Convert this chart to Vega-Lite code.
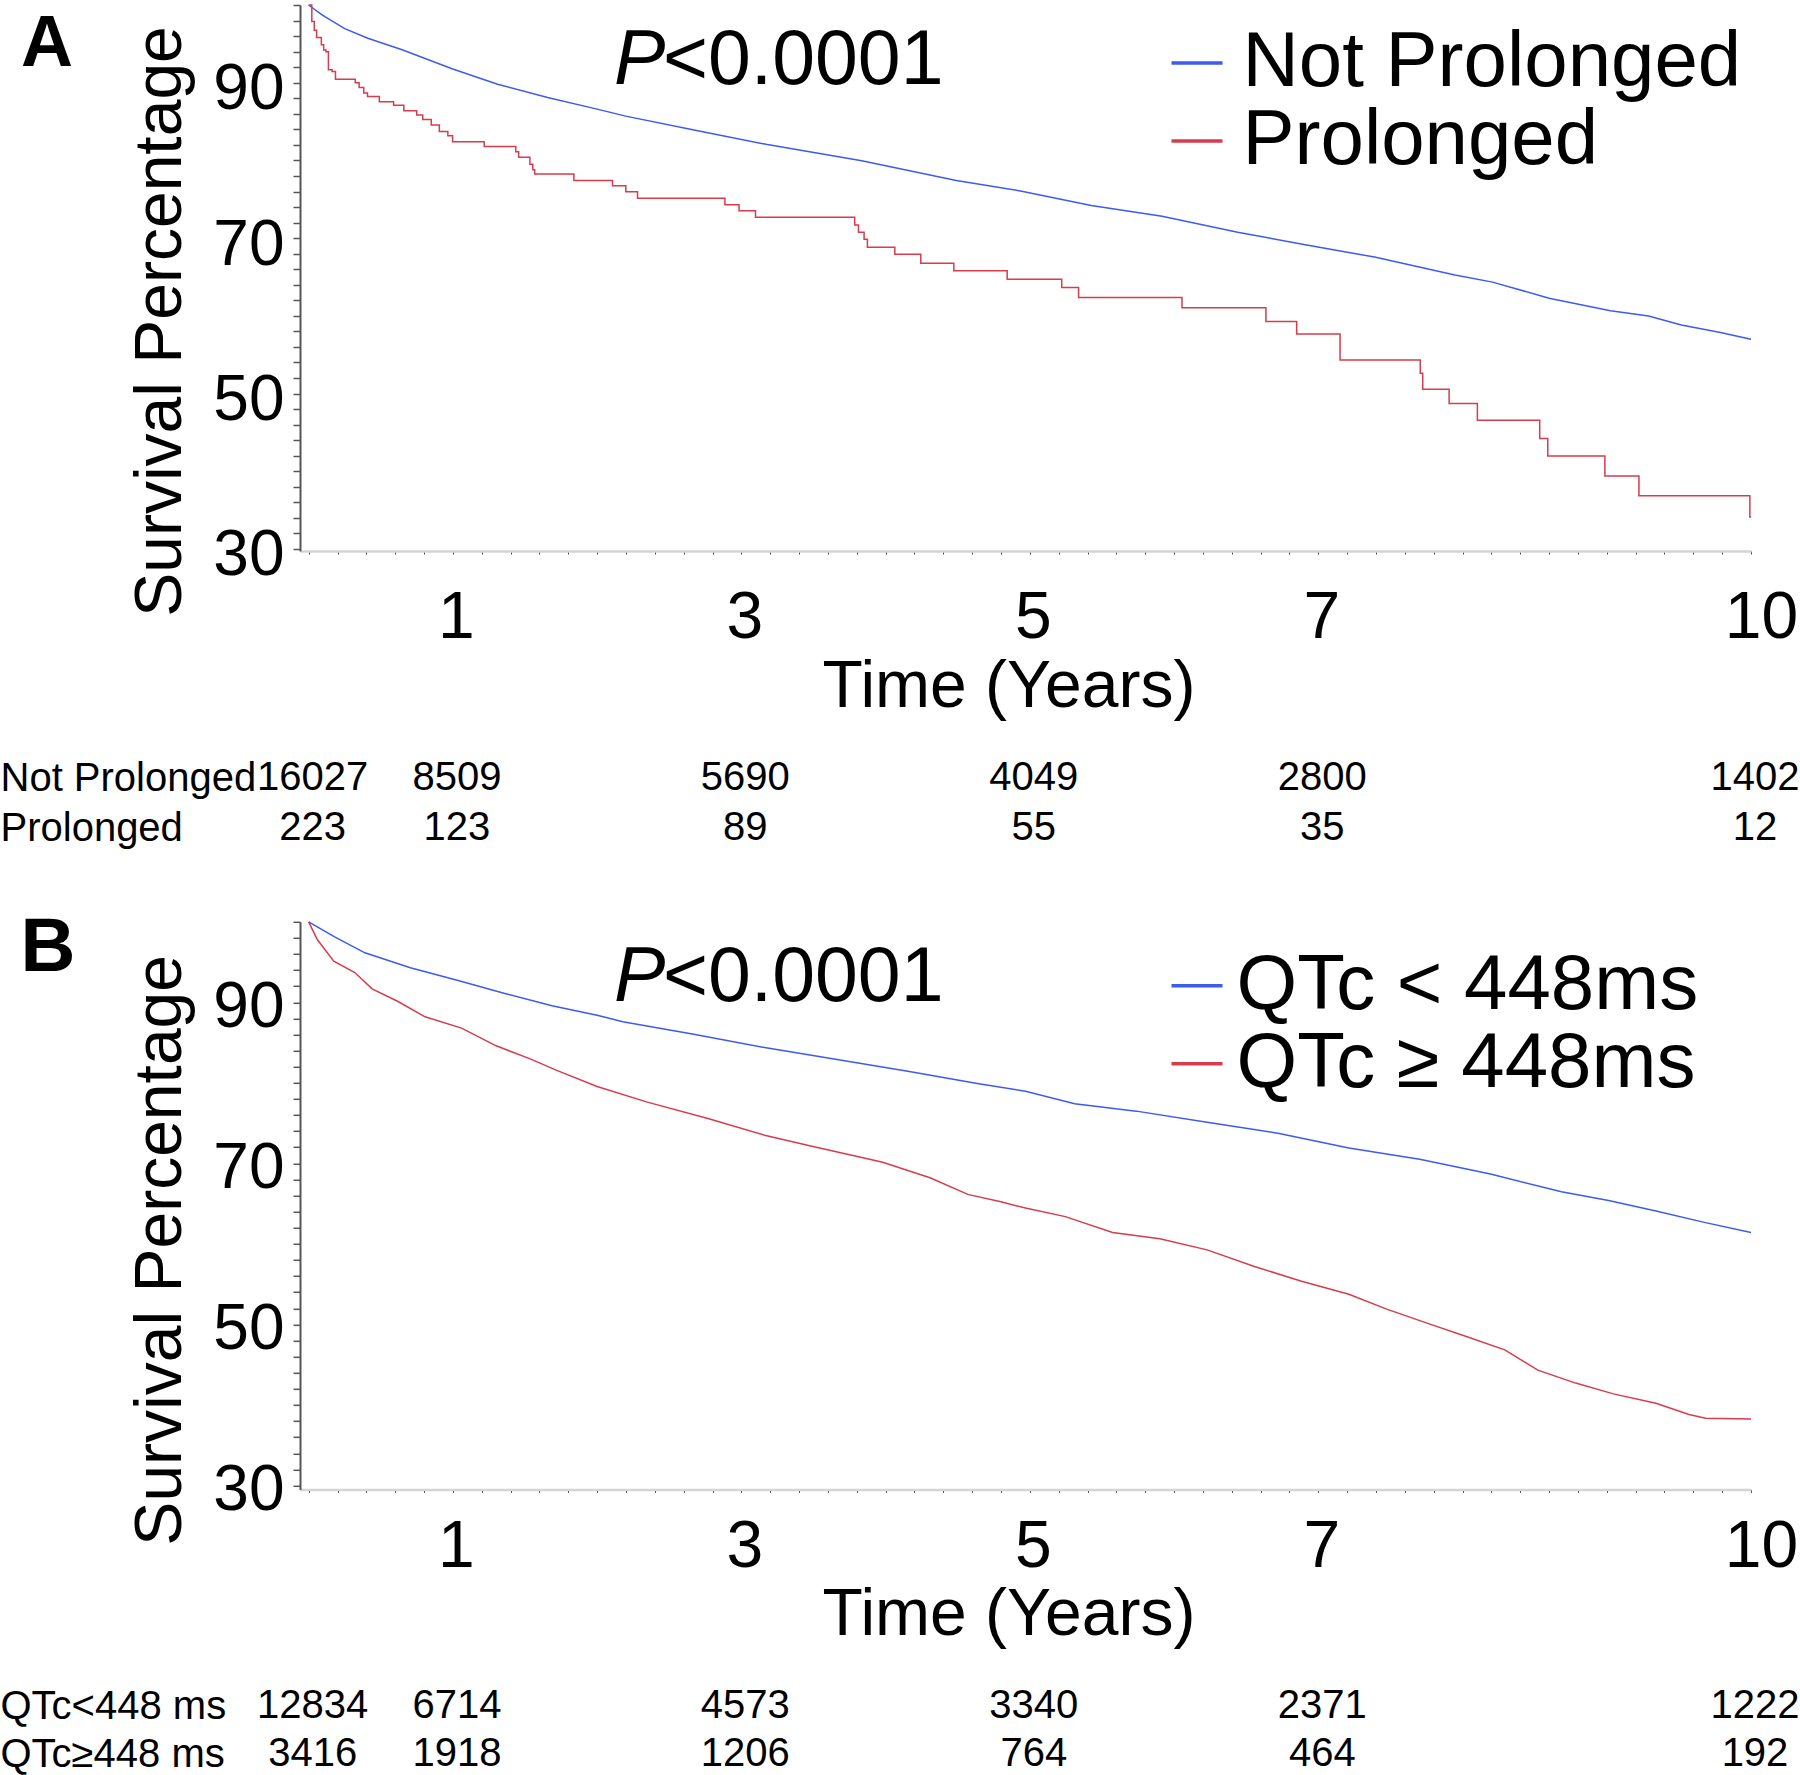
{
  "$schema": "https://vega.github.io/schema/vega-lite/v6.json",
  "background": "white",
  "padding": {"left": 0, "top": -20, "right": 0, "bottom": 0},
  "spacing": 110.4,
  "bounds": "flush",
  "resolve": {"scale": {"x": "independent", "y": "independent", "color": "independent"}, "legend": {"color": "independent"}},
  "config": {
    "font": "Liberation Sans",
    "view": {"stroke": null},
    "axis": {"grid": false, "labelColor": "black", "titleColor": "black", "titleFontWeight": "normal", "labelOverlap": false, "labelFlush": false},
    "legend": {"padding": 0},
    "text": {"color": "black"}
  },
  "datasets": {
    "kmA": [
      {"group": "Not Prolonged", "t": 0, "s": 100},
      {"group": "Not Prolonged", "t": 0.088, "s": 98.8},
      {"group": "Not Prolonged", "t": 0.118, "s": 98.43},
      {"group": "Not Prolonged", "t": 0.25, "s": 96.95},
      {"group": "Not Prolonged", "t": 0.41, "s": 95.72},
      {"group": "Not Prolonged", "t": 0.648, "s": 94.24},
      {"group": "Not Prolonged", "t": 0.994, "s": 91.8},
      {"group": "Not Prolonged", "t": 1.31, "s": 89.8},
      {"group": "Not Prolonged", "t": 1.657, "s": 88.1},
      {"group": "Not Prolonged", "t": 2.0, "s": 86.6},
      {"group": "Not Prolonged", "t": 2.198, "s": 85.7},
      {"group": "Not Prolonged", "t": 2.689, "s": 83.86},
      {"group": "Not Prolonged", "t": 3.18, "s": 82.04},
      {"group": "Not Prolonged", "t": 3.835, "s": 79.96},
      {"group": "Not Prolonged", "t": 4.49, "s": 77.43},
      {"group": "Not Prolonged", "t": 4.935, "s": 76.07},
      {"group": "Not Prolonged", "t": 5.426, "s": 74.21},
      {"group": "Not Prolonged", "t": 5.917, "s": 72.83},
      {"group": "Not Prolonged", "t": 6.441, "s": 70.77},
      {"group": "Not Prolonged", "t": 6.9, "s": 69.17},
      {"group": "Not Prolonged", "t": 7.39, "s": 67.56},
      {"group": "Not Prolonged", "t": 7.947, "s": 65.26},
      {"group": "Not Prolonged", "t": 8.208, "s": 64.34},
      {"group": "Not Prolonged", "t": 8.6, "s": 62.27},
      {"group": "Not Prolonged", "t": 9.026, "s": 60.66},
      {"group": "Not Prolonged", "t": 9.29, "s": 59.97},
      {"group": "Not Prolonged", "t": 9.517, "s": 58.82},
      {"group": "Not Prolonged", "t": 9.78, "s": 57.9},
      {"group": "Not Prolonged", "t": 10.0, "s": 56.98},
      {"group": "Prolonged", "t": 0, "s": 100},
      {"group": "Prolonged", "t": 0.022, "s": 97.89},
      {"group": "Prolonged", "t": 0.039, "s": 96.74},
      {"group": "Prolonged", "t": 0.055, "s": 95.82},
      {"group": "Prolonged", "t": 0.088, "s": 94.9},
      {"group": "Prolonged", "t": 0.104, "s": 94.21},
      {"group": "Prolonged", "t": 0.12, "s": 93.98},
      {"group": "Prolonged", "t": 0.137, "s": 91.68},
      {"group": "Prolonged", "t": 0.163, "s": 91.45},
      {"group": "Prolonged", "t": 0.186, "s": 90.44},
      {"group": "Prolonged", "t": 0.323, "s": 89.98},
      {"group": "Prolonged", "t": 0.35, "s": 89.38},
      {"group": "Prolonged", "t": 0.382, "s": 88.69},
      {"group": "Prolonged", "t": 0.408, "s": 88.23},
      {"group": "Prolonged", "t": 0.49, "s": 87.55},
      {"group": "Prolonged", "t": 0.589, "s": 87.09},
      {"group": "Prolonged", "t": 0.66, "s": 86.4},
      {"group": "Prolonged", "t": 0.749, "s": 85.85},
      {"group": "Prolonged", "t": 0.791, "s": 85.25},
      {"group": "Prolonged", "t": 0.85, "s": 84.56},
      {"group": "Prolonged", "t": 0.906, "s": 83.73},
      {"group": "Prolonged", "t": 0.965, "s": 83.18},
      {"group": "Prolonged", "t": 0.998, "s": 82.4},
      {"group": "Prolonged", "t": 1.217, "s": 81.8},
      {"group": "Prolonged", "t": 1.436, "s": 81.11},
      {"group": "Prolonged", "t": 1.456, "s": 80.42},
      {"group": "Prolonged", "t": 1.534, "s": 79.5},
      {"group": "Prolonged", "t": 1.554, "s": 78.81},
      {"group": "Prolonged", "t": 1.567, "s": 78.26},
      {"group": "Prolonged", "t": 1.839, "s": 77.43},
      {"group": "Prolonged", "t": 2.107, "s": 76.75},
      {"group": "Prolonged", "t": 2.199, "s": 75.96},
      {"group": "Prolonged", "t": 2.28, "s": 75.14},
      {"group": "Prolonged", "t": 2.886, "s": 74.31},
      {"group": "Prolonged", "t": 2.984, "s": 73.53},
      {"group": "Prolonged", "t": 3.098, "s": 72.7},
      {"group": "Prolonged", "t": 3.786, "s": 71.69},
      {"group": "Prolonged", "t": 3.812, "s": 70.77},
      {"group": "Prolonged", "t": 3.851, "s": 69.85},
      {"group": "Prolonged", "t": 3.874, "s": 68.84},
      {"group": "Prolonged", "t": 4.064, "s": 67.92},
      {"group": "Prolonged", "t": 4.244, "s": 66.77},
      {"group": "Prolonged", "t": 4.473, "s": 65.81},
      {"group": "Prolonged", "t": 4.843, "s": 64.7},
      {"group": "Prolonged", "t": 5.221, "s": 63.65},
      {"group": "Prolonged", "t": 5.338, "s": 62.36},
      {"group": "Prolonged", "t": 6.055, "s": 61.03},
      {"group": "Prolonged", "t": 6.637, "s": 59.28},
      {"group": "Prolonged", "t": 6.85, "s": 57.67},
      {"group": "Prolonged", "t": 7.151, "s": 54.32},
      {"group": "Prolonged", "t": 7.707, "s": 52.62},
      {"group": "Prolonged", "t": 7.724, "s": 50.55},
      {"group": "Prolonged", "t": 7.907, "s": 48.71},
      {"group": "Prolonged", "t": 8.103, "s": 46.55},
      {"group": "Prolonged", "t": 8.535, "s": 44.21},
      {"group": "Prolonged", "t": 8.591, "s": 41.96},
      {"group": "Prolonged", "t": 8.987, "s": 39.38},
      {"group": "Prolonged", "t": 9.223, "s": 36.85},
      {"group": "Prolonged", "t": 9.992, "s": 34.1},
      {"group": "Prolonged", "t": 10.0, "s": 34.1}
    ],
    "kmB": [
      {"group": "QTc < 448ms", "t": 0, "s": 100},
      {"group": "QTc < 448ms", "t": 0.177, "s": 98.15},
      {"group": "QTc < 448ms", "t": 0.39, "s": 96.15},
      {"group": "QTc < 448ms", "t": 0.705, "s": 94.3},
      {"group": "QTc < 448ms", "t": 1.03, "s": 92.75},
      {"group": "QTc < 448ms", "t": 1.36, "s": 91.1},
      {"group": "QTc < 448ms", "t": 1.687, "s": 89.58},
      {"group": "QTc < 448ms", "t": 2.0, "s": 88.4},
      {"group": "QTc < 448ms", "t": 2.178, "s": 87.6},
      {"group": "QTc < 448ms", "t": 2.67, "s": 86.05},
      {"group": "QTc < 448ms", "t": 3.161, "s": 84.39},
      {"group": "QTc < 448ms", "t": 3.653, "s": 82.92},
      {"group": "QTc < 448ms", "t": 4.144, "s": 81.46},
      {"group": "QTc < 448ms", "t": 4.636, "s": 79.93},
      {"group": "QTc < 448ms", "t": 4.97, "s": 78.95},
      {"group": "QTc < 448ms", "t": 5.311, "s": 77.41},
      {"group": "QTc < 448ms", "t": 5.738, "s": 76.49},
      {"group": "QTc < 448ms", "t": 6.229, "s": 75.11},
      {"group": "QTc < 448ms", "t": 6.72, "s": 73.74},
      {"group": "QTc < 448ms", "t": 7.212, "s": 71.9},
      {"group": "QTc < 448ms", "t": 7.703, "s": 70.52},
      {"group": "QTc < 448ms", "t": 8.194, "s": 68.68},
      {"group": "QTc < 448ms", "t": 8.686, "s": 66.47},
      {"group": "QTc < 448ms", "t": 9.013, "s": 65.38},
      {"group": "QTc < 448ms", "t": 9.341, "s": 64.09},
      {"group": "QTc < 448ms", "t": 9.669, "s": 62.71},
      {"group": "QTc < 448ms", "t": 10.0, "s": 61.42},
      {"group": "QTc ≥ 448ms", "t": 0, "s": 100},
      {"group": "QTc ≥ 448ms", "t": 0.06, "s": 97.8},
      {"group": "QTc ≥ 448ms", "t": 0.174, "s": 95.1},
      {"group": "QTc ≥ 448ms", "t": 0.32, "s": 93.7},
      {"group": "QTc ≥ 448ms", "t": 0.44, "s": 91.67},
      {"group": "QTc ≥ 448ms", "t": 0.62, "s": 90.1},
      {"group": "QTc ≥ 448ms", "t": 0.807, "s": 88.2},
      {"group": "QTc ≥ 448ms", "t": 1.06, "s": 86.8},
      {"group": "QTc ≥ 448ms", "t": 1.3, "s": 84.6},
      {"group": "QTc ≥ 448ms", "t": 1.54, "s": 82.95},
      {"group": "QTc ≥ 448ms", "t": 1.72, "s": 81.55},
      {"group": "QTc ≥ 448ms", "t": 2.0, "s": 79.55},
      {"group": "QTc ≥ 448ms", "t": 2.342, "s": 77.64},
      {"group": "QTc ≥ 448ms", "t": 2.768, "s": 75.57},
      {"group": "QTc ≥ 448ms", "t": 3.161, "s": 73.5},
      {"group": "QTc ≥ 448ms", "t": 3.489, "s": 72.12},
      {"group": "QTc ≥ 448ms", "t": 3.98, "s": 70.15},
      {"group": "QTc ≥ 448ms", "t": 4.308, "s": 68.22},
      {"group": "QTc ≥ 448ms", "t": 4.57, "s": 66.15},
      {"group": "QTc ≥ 448ms", "t": 4.799, "s": 65.23},
      {"group": "QTc ≥ 448ms", "t": 4.97, "s": 64.45},
      {"group": "QTc ≥ 448ms", "t": 5.246, "s": 63.39},
      {"group": "QTc ≥ 448ms", "t": 5.574, "s": 61.42},
      {"group": "QTc ≥ 448ms", "t": 5.901, "s": 60.64},
      {"group": "QTc ≥ 448ms", "t": 6.229, "s": 59.26},
      {"group": "QTc ≥ 448ms", "t": 6.557, "s": 57.2},
      {"group": "QTc ≥ 448ms", "t": 6.884, "s": 55.36},
      {"group": "QTc ≥ 448ms", "t": 7.212, "s": 53.75},
      {"group": "QTc ≥ 448ms", "t": 7.474, "s": 51.91},
      {"group": "QTc ≥ 448ms", "t": 7.769, "s": 50.07},
      {"group": "QTc ≥ 448ms", "t": 8.031, "s": 48.47},
      {"group": "QTc ≥ 448ms", "t": 8.293, "s": 46.85},
      {"group": "QTc ≥ 448ms", "t": 8.522, "s": 44.33},
      {"group": "QTc ≥ 448ms", "t": 8.784, "s": 42.72},
      {"group": "QTc ≥ 448ms", "t": 9.046, "s": 41.38},
      {"group": "QTc ≥ 448ms", "t": 9.341, "s": 40.22},
      {"group": "QTc ≥ 448ms", "t": 9.57, "s": 38.82},
      {"group": "QTc ≥ 448ms", "t": 9.685, "s": 38.36},
      {"group": "QTc ≥ 448ms", "t": 10.0, "s": 38.27}
    ],
    "riskA": [
      {"group": "Not Prolonged", "t": 0, "n": "16027"},
      {"group": "Not Prolonged", "t": 1, "n": "8509"},
      {"group": "Not Prolonged", "t": 3, "n": "5690"},
      {"group": "Not Prolonged", "t": 5, "n": "4049"},
      {"group": "Not Prolonged", "t": 7, "n": "2800"},
      {"group": "Not Prolonged", "t": 10, "n": "1402"},
      {"group": "Prolonged", "t": 0, "n": "223"},
      {"group": "Prolonged", "t": 1, "n": "123"},
      {"group": "Prolonged", "t": 3, "n": "89"},
      {"group": "Prolonged", "t": 5, "n": "55"},
      {"group": "Prolonged", "t": 7, "n": "35"},
      {"group": "Prolonged", "t": 10, "n": "12"}
    ],
    "riskB": [
      {"group": "QTc<448 ms", "t": 0, "n": "12834"},
      {"group": "QTc<448 ms", "t": 1, "n": "6714"},
      {"group": "QTc<448 ms", "t": 3, "n": "4573"},
      {"group": "QTc<448 ms", "t": 5, "n": "3340"},
      {"group": "QTc<448 ms", "t": 7, "n": "2371"},
      {"group": "QTc<448 ms", "t": 10, "n": "1222"},
      {"group": "QTc≥448 ms", "t": 0, "n": "3416"},
      {"group": "QTc≥448 ms", "t": 1, "n": "1918"},
      {"group": "QTc≥448 ms", "t": 3, "n": "1206"},
      {"group": "QTc≥448 ms", "t": 5, "n": "764"},
      {"group": "QTc≥448 ms", "t": 7, "n": "464"},
      {"group": "QTc≥448 ms", "t": 10, "n": "192"}
    ]
  },
  "vconcat": [
    {
      "width": 1451,
      "height": 546,
      "layer": [
        {
          "data": {"name": "kmA"},
          "transform": [{"filter": "datum.group == 'Not Prolonged'"}],
          "mark": {"type": "line", "strokeWidth": 1.5, "interpolate": "linear"},
          "encoding": {
            "x": {"field": "t", "type": "quantitative", "scale": {"domain": [-0.06, 10], "nice": false, "zero": false},
              "axis": {"title": "Time (Years)", "titleFontSize": 66, "titleX": 708.5, "titleY": 155.7, "titleAlign": "center", "titleBaseline": "alphabetic",
                "values": [0,0.2,0.4,0.6,0.8,1,1.2,1.4,1.6,1.8,2,2.2,2.4,2.6,2.8,3,3.2,3.4,3.6,3.8,4,4.2,4.4,4.6,4.8,5,5.2,5.4,5.6,5.8,6,6.2,6.4,6.6,6.8,7,7.2,7.4,7.6,7.8,8,8.2,8.4,8.6,8.8,9,9.2,9.4,9.6,9.8,10],
                "tickCount": 80, "tickMinStep": 0.1,
                "labelExpr": "datum.value == 1 || datum.value == 3 || datum.value == 5 || datum.value == 7 || datum.value == 10 ? '' + datum.value : ''",
                "labelFontSize": 66, "labelPadding": 31, "tickSize": 3, "tickColor": "#444444", "tickWidth": 1, "domainColor": "#d4d4d4", "domainWidth": 2.5,
                "labelOffset": {"condition": {"test": "datum.value == 10", "value": 10}, "value": 3}}},
            "y": {"field": "s", "type": "quantitative", "scale": {"domain": [29.74, 100], "nice": false, "zero": false},
              "axis": {"title": "Survival Percentage", "titleFontSize": 66, "titleX": -120, "titleY": 316, "titleAlign": "center", "titleBaseline": "alphabetic", "titleAngle": 270,
                "values": [30,32,34,36,38,40,42,44,46,48,50,52,54,56,58,60,62,64,66,68,70,72,74,76,78,80,82,84,86,88,90,92,94,96,98,100],
                "tickCount": 60,
                "labelExpr": "datum.value == 30 || datum.value == 50 || datum.value == 70 || datum.value == 90 ? datum.label : ''",
                "labelFontSize": 64, "labelPadding": 9, "labelOffset": 7, "tickSize": 7, "tickColor": "#555555", "tickWidth": 1.5, "domainColor": "#555555", "domainWidth": 2}},
            "color": {"field": "group", "type": "nominal", "scale": {"domain": ["Not Prolonged", "Prolonged"], "range": ["#3d5af1", "#d63c4c"]},
              "legend": {"orient": "none", "legendX": 858, "legendY": 19, "title": null, "direction": "vertical", "symbolType": "stroke", "symbolSize": 2601, "symbolStrokeWidth": 3.5, "labelFontSize": 78, "labelBaseline": "middle", "labelOffset": 6.5, "labelLimit": 1000, "rowPadding": 0, "labelColor": "black"}}
          }
        },
        {
          "data": {"name": "kmA"},
          "transform": [{"filter": "datum.group == 'Prolonged'"}],
          "mark": {"type": "line", "strokeWidth": 1.5, "interpolate": "step-after"},
          "encoding": {
            "x": {"field": "t", "type": "quantitative"},
            "y": {"field": "s", "type": "quantitative"},
            "color": {"field": "group", "type": "nominal", "scale": {"domain": ["Not Prolonged", "Prolonged"], "range": ["#3d5af1", "#d63c4c"]},
              "legend": {"orient": "none", "legendX": 858, "legendY": 19, "title": null, "direction": "vertical", "symbolType": "stroke", "symbolSize": 2601, "symbolStrokeWidth": 3.5, "labelFontSize": 78, "labelBaseline": "middle", "labelOffset": 6.5, "labelLimit": 1000, "rowPadding": 0, "labelColor": "black"}}
          }
        },
        {
          "data": {"values": [{"t": -1.995, "s": 92.21, "label": "A"}]},
          "mark": {"type": "text", "fontSize": 72, "fontWeight": "bold", "align": "left", "baseline": "alphabetic"},
          "encoding": {
            "x": {"field": "t", "type": "quantitative"},
            "y": {"field": "s", "type": "quantitative"},
            "text": {"field": "label"}
          }
        },
        {
          "data": {"values": [{"t": 2.117, "s": 89.83, "label": "P"}]},
          "mark": {"type": "text", "fontSize": 77, "fontStyle": "italic", "align": "left", "baseline": "alphabetic"},
          "encoding": {
            "x": {"field": "t", "type": "quantitative"},
            "y": {"field": "s", "type": "quantitative"},
            "text": {"field": "label"}
          }
        },
        {
          "data": {"values": [{"t": 2.457, "s": 89.83, "label": "<0.0001"}]},
          "mark": {"type": "text", "fontSize": 77, "align": "left", "baseline": "alphabetic"},
          "encoding": {
            "x": {"field": "t", "type": "quantitative"},
            "y": {"field": "s", "type": "quantitative"},
            "text": {"field": "label"}
          }
        }
      ]
    },
    {
      "width": 1451,
      "height": 150,
      "data": {"name": "riskA"},
      "mark": {"type": "text", "fontSize": 40, "align": "center", "baseline": "alphabetic", "dx": 4, "dy": 28.6},
      "encoding": {
        "x": {"field": "t", "type": "quantitative", "scale": {"domain": [-0.06, 10], "nice": false, "zero": false}, "axis": null},
        "y": {"field": "group", "type": "nominal", "scale": {"type": "point", "domain": ["Not Prolonged", "Prolonged"], "padding": 1, "align": 1},
          "axis": {"title": null, "domain": false, "ticks": false, "tickSize": 0, "labelAlign": "left", "labelBaseline": "alphabetic", "labelPadding": 300, "labelOffset": 28.6, "labelFontSize": 40, "labelColor": "black", "labelLimit": 400}},
        "text": {"field": "n", "type": "nominal"}
      }
    },
    {
      "width": 1451,
      "height": 567.6,
      "layer": [
        {
          "data": {"name": "kmB"},
          "mark": {"type": "line", "strokeWidth": 1.5, "interpolate": "linear"},
          "encoding": {
            "x": {"field": "t", "type": "quantitative", "scale": {"domain": [-0.06, 10], "nice": false, "zero": false},
              "axis": {"title": "Time (Years)", "titleFontSize": 66, "titleX": 708.5, "titleY": 145.6, "titleAlign": "center", "titleBaseline": "alphabetic",
                "values": [0,0.2,0.4,0.6,0.8,1,1.2,1.4,1.6,1.8,2,2.2,2.4,2.6,2.8,3,3.2,3.4,3.6,3.8,4,4.2,4.4,4.6,4.8,5,5.2,5.4,5.6,5.8,6,6.2,6.4,6.6,6.8,7,7.2,7.4,7.6,7.8,8,8.2,8.4,8.6,8.8,9,9.2,9.4,9.6,9.8,10],
                "tickCount": 80, "tickMinStep": 0.1,
                "labelExpr": "datum.value == 1 || datum.value == 3 || datum.value == 5 || datum.value == 7 || datum.value == 10 ? '' + datum.value : ''",
                "labelFontSize": 66, "labelPadding": 22.6, "tickSize": 3, "tickColor": "#444444", "tickWidth": 1, "domainColor": "#d4d4d4", "domainWidth": 2.5,
                "labelOffset": {"condition": {"test": "datum.value == 10", "value": 10}, "value": 3}}},
            "y": {"field": "s", "type": "quantitative", "scale": {"domain": [29.52, 100], "nice": false, "zero": false},
              "axis": {"title": "Survival Percentage", "titleFontSize": 66, "titleX": -120, "titleY": 328, "titleAlign": "center", "titleBaseline": "alphabetic", "titleAngle": 270,
                "values": [30,32,34,36,38,40,42,44,46,48,50,52,54,56,58,60,62,64,66,68,70,72,74,76,78,80,82,84,86,88,90,92,94,96,98,100],
                "tickCount": 60,
                "labelExpr": "datum.value == 30 || datum.value == 50 || datum.value == 70 || datum.value == 90 ? datum.label : ''",
                "labelFontSize": 64, "labelPadding": 9, "labelOffset": 5, "tickSize": 7, "tickColor": "#555555", "tickWidth": 1.5, "domainColor": "#555555", "domainWidth": 2}},
            "color": {"field": "group", "type": "nominal", "scale": {"domain": ["QTc < 448ms", "QTc ≥ 448ms"], "range": ["#3d5af1", "#d63c4c"]},
              "legend": {"orient": "none", "legendX": 858, "legendY": 25, "title": null, "direction": "vertical", "symbolType": "stroke", "symbolSize": 2601, "symbolStrokeWidth": 3.5, "labelFontSize": 78, "labelBaseline": "middle", "labelOffset": 0.5, "labelLimit": 1000, "rowPadding": 0, "labelColor": "black"}}
          }
        },
        {
          "data": {"values": [{"t": -1.998, "s": 93.89, "label": "B"}]},
          "mark": {"type": "text", "fontSize": 76, "fontWeight": "bold", "align": "left", "baseline": "alphabetic"},
          "encoding": {
            "x": {"field": "t", "type": "quantitative"},
            "y": {"field": "s", "type": "quantitative"},
            "text": {"field": "label"}
          }
        },
        {
          "data": {"values": [{"t": 2.117, "s": 90.12, "label": "P"}]},
          "mark": {"type": "text", "fontSize": 77, "fontStyle": "italic", "align": "left", "baseline": "alphabetic"},
          "encoding": {
            "x": {"field": "t", "type": "quantitative"},
            "y": {"field": "s", "type": "quantitative"},
            "text": {"field": "label"}
          }
        },
        {
          "data": {"values": [{"t": 2.457, "s": 90.12, "label": "<0.0001"}]},
          "mark": {"type": "text", "fontSize": 77, "align": "left", "baseline": "alphabetic"},
          "encoding": {
            "x": {"field": "t", "type": "quantitative"},
            "y": {"field": "s", "type": "quantitative"},
            "text": {"field": "label"}
          }
        }
      ]
    },
    {
      "width": 1451,
      "height": 144,
      "data": {"name": "riskB"},
      "mark": {"type": "text", "fontSize": 40, "align": "center", "baseline": "alphabetic", "dx": 4, "dy": 22.2},
      "encoding": {
        "x": {"field": "t", "type": "quantitative", "scale": {"domain": [-0.06, 10], "nice": false, "zero": false}, "axis": null},
        "y": {"field": "group", "type": "nominal", "scale": {"type": "point", "domain": ["QTc<448 ms", "QTc≥448 ms"], "padding": 1, "align": 1},
          "axis": {"title": null, "domain": false, "ticks": false, "tickSize": 0, "labelAlign": "left", "labelBaseline": "alphabetic", "labelPadding": 300, "labelOffset": 22.2, "labelFontSize": 40, "labelColor": "black", "labelLimit": 400}},
        "text": {"field": "n", "type": "nominal"}
      }
    }
  ]
}
